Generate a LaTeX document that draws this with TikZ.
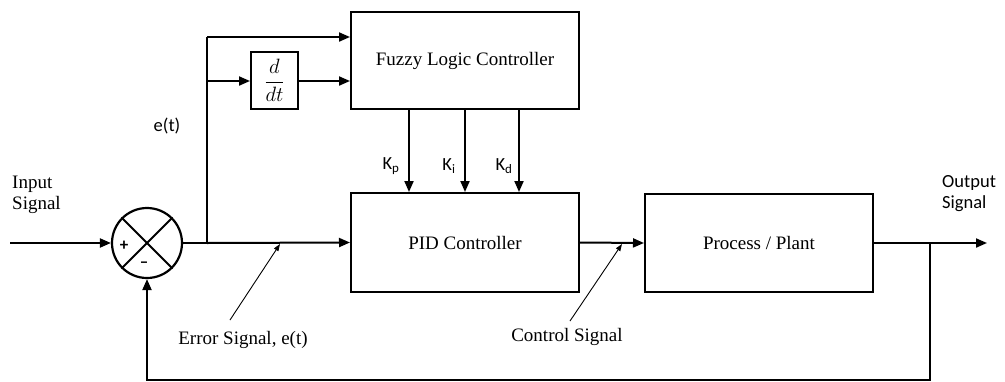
\documentclass[tikz,border=0pt]{standalone}
\usepackage{fontspec}
\setmainfont{Liberation Serif}
\newfontfamily\labsans{Carlito}
\usetikzlibrary{arrows.meta}
\tikzset{
  blk/.style={draw, line width=2pt, inner sep=0pt, font=\fontsize{19}{21}\selectfont},
  arr/.style={line width=2pt, -{Triangle[length=11pt,width=9pt]}},
  ln/.style={line width=2pt},
  ptr/.style={line width=0.9pt, -{Triangle[length=7pt,width=5pt]}},
  serlab/.style={font=\fontsize{19}{21}\selectfont, inner sep=0pt},
  sanlab/.style={font=\labsans\fontsize{18.5}{21}\selectfont, inner sep=0pt},
}
\begin{document}
\begin{tikzpicture}[x=1pt,y=-1pt]
\useasboundingbox[fill=white] (0,0) rectangle (1005,381);

% blocks
\node[blk, minimum width=228pt, minimum height=97pt] (flc) at (465,60.5) {Fuzzy Logic Controller};
\node[blk, minimum width=228pt, minimum height=99pt] (pid) at (465,242.5) {PID Controller};
\node[blk, minimum width=228pt, minimum height=98pt] (proc) at (759,243) {Process / Plant};
\node[blk, minimum width=47pt, minimum height=57pt] (ddt) at (274.5,80.5) {\fontsize{22}{24}\selectfont$\displaystyle\frac{d}{dt}$};
\node[draw, circle, line width=2.2pt, minimum size=70pt, inner sep=0pt] (sum) at (147,243) {};
\draw[line width=2pt] (sum.north west) -- (sum.south east);
\draw[line width=2pt] (sum.north east) -- (sum.south west);
\node[font=\labsans\bfseries\fontsize{17}{17}\selectfont, inner sep=0pt] (plus) at (124,246) {+};
\node[font=\labsans\bfseries\fontsize{17}{17}\selectfont, inner sep=0pt] (minus) at (144,265) {\textendash};

% coordinates
\coordinate (in) at (10,243);
\coordinate (br) at (207,243);
\coordinate (top) at (207,37);
\coordinate (mid) at (207,81);
\coordinate (kp) at (409,0);
\coordinate (ki) at (465,0);
\coordinate (kd) at (519,0);
\coordinate (fb) at (930,243);
\coordinate (out) at (987,243);
\coordinate (fbb) at (930,380);
\coordinate (fbl) at (147,380);

% connectors
\draw[arr] (in) -- (sum.west);
\draw[ln] (sum.east) -- (br);
\draw[arr] (br) -- (pid.west);
\draw[ln] (br) -- (top);
\draw[arr] (top) -- (top -| flc.west);
\draw[arr] (mid) -- (ddt.west |- mid);
\draw[arr] (ddt.east |- mid) -- (flc.west |- mid);
\draw[arr] (flc.south -| kp) -- (pid.north -| kp);
\draw[arr] (flc.south -| ki) -- (pid.north -| ki);
\draw[arr] (flc.south -| kd) -- (pid.north -| kd);
\draw[arr] (pid.east) -- (proc.west);
\draw[ln] (proc.east) -- (fb);
\draw[arr] (fb) -- (out);
\draw[arr] (fb) -- (fbb) -- (fbl) -- (sum.south);

% labels
\node[serlab, align=left, anchor=west] (inlab) at (12,195) {Input\\Signal};
\node[sanlab, align=left, anchor=west] (outlab) at (942,194) {Output\\Signal};
\node[sanlab] (et) at (167,126) {e(t)};
\node[sanlab] (kpl) at (391,166) {K\textsubscript{p}};
\node[sanlab] (kil) at (449,166) {K\textsubscript{i}};
\node[sanlab] (kdl) at (504,166) {K\textsubscript{d}};
\node[serlab] (err) at (243,340) {Error Signal, e(t)};
\node[serlab] (ctl) at (567,337) {Control Signal};

\coordinate (errs) at (230,320);
\coordinate (erre) at (280,244);
\coordinate (ctls) at (570,321);
\coordinate (ctle) at (622,244);
\draw[ptr] (errs) -- (erre);
\draw[ptr] (ctls) -- (ctle);
\end{tikzpicture}
\end{document}
